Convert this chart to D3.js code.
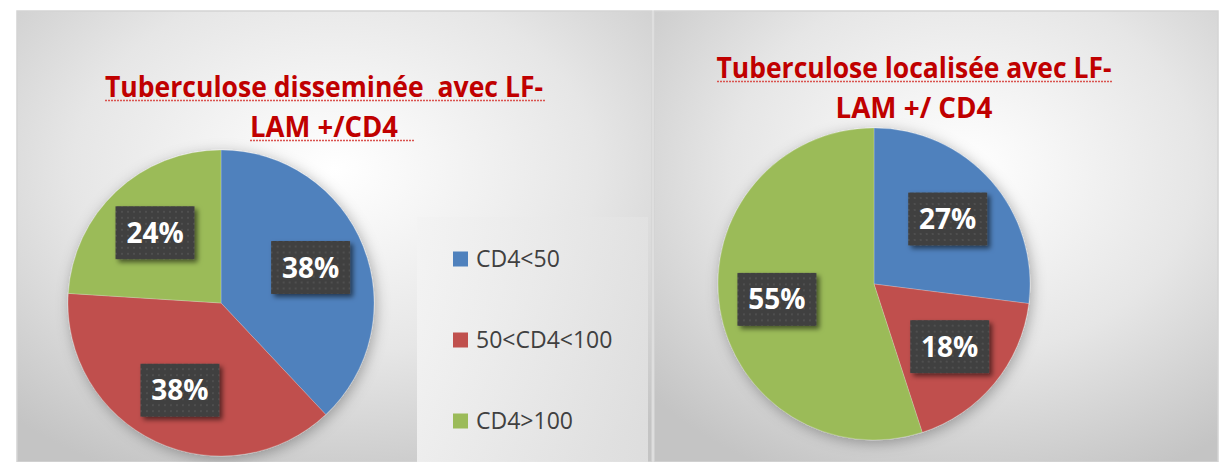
<!DOCTYPE html>
<html>
<head>
<meta charset="utf-8">
<script src="https://cdn.jsdelivr.net/npm/d3@7"></script>
<style>
  body { margin: 0; background: #fff; }
  svg { display: block; }
</style>
</head>
<body>
<script>
var categories = ["CD4<50", "50<CD4<100", "CD4>100"];
var colors = ["#4f81bd", "#c0504d", "#9bbb59"];

var dissemineeValues = [38, 38, 24];
var localiseeValues = [27, 18, 55];

var dissemineeTitle = ["Tuberculose disseminée  avec LF-", "LAM +/CD4"];
var localiseeTitle = ["Tuberculose localisée avec LF-", "LAM +/ CD4"];

var width = 1232,
    height = 462;

var svg = d3.select("body").append("svg")
    .attr("width", width)
    .attr("height", height);

var defs = svg.append("defs");

// panel backgrounds
function radial(id, cx, cy) {
  var g = defs.append("radialGradient")
      .attr("id", id)
      .attr("cx", cx).attr("cy", cy).attr("r", "0.75");
  g.append("stop").attr("offset", "0").attr("stop-color", "#ffffff");
  g.append("stop").attr("offset", "0.55").attr("stop-color", "#e6e6e6");
  g.append("stop").attr("offset", "1").attr("stop-color", "#c4c4c4");
}
radial("bgLeft", "0.5", "0.35");
radial("bgRight", "0.55", "0.35");

var lg = defs.append("linearGradient").attr("id", "legendBg")
    .attr("x1", 0).attr("x2", 1).attr("y1", 0).attr("y2", 0);
lg.append("stop").attr("offset", "0").attr("stop-color", "#f3f3f3");
lg.append("stop").attr("offset", "1").attr("stop-color", "#e2e2e2");

var pat = defs.append("pattern").attr("id", "dots")
    .attr("width", 6).attr("height", 6)
    .attr("patternUnits", "userSpaceOnUse");
pat.append("rect").attr("width", 6).attr("height", 6).attr("fill", "#3f3f3f");
pat.append("circle").attr("cx", 3).attr("cy", 3).attr("r", 0.9).attr("fill", "#575757");

var pieShadow = defs.append("filter").attr("id", "pieShadow")
    .attr("x", "-20%").attr("y", "-20%").attr("width", "140%").attr("height", "140%");
pieShadow.append("feDropShadow")
    .attr("dx", 2).attr("dy", 3).attr("stdDeviation", 7)
    .attr("flood-color", "#000").attr("flood-opacity", 0.3);

var boxShadow = defs.append("filter").attr("id", "boxShadow")
    .attr("x", "-20%").attr("y", "-20%").attr("width", "150%").attr("height", "150%");
boxShadow.append("feDropShadow")
    .attr("dx", 3).attr("dy", 3).attr("stdDeviation", 2.5)
    .attr("flood-color", "#000").attr("flood-opacity", 0.55);

var panels = [
  {x: 17, y: 11, w: 635, h: 451, fill: "url(#bgLeft)"},
  {x: 654, y: 11, w: 564, h: 451, fill: "url(#bgRight)"}
];

svg.selectAll("rect.panel")
    .data(panels)
  .enter().append("rect")
    .attr("class", "panel")
    .attr("x", function(d) { return d.x; })
    .attr("y", function(d) { return d.y; })
    .attr("width", function(d) { return d.w; })
    .attr("height", function(d) { return d.h; })
    .attr("fill", function(d) { return d.fill; })
    .attr("stroke", "#d4d4d4")
    .attr("stroke-width", 1.5);

// legend (left panel only)
var legend = svg.append("g");
legend.append("rect")
    .attr("x", 417).attr("y", 217)
    .attr("width", 231).attr("height", 245)
    .attr("fill", "url(#legendBg)")
    .attr("opacity", 0.85);

var legendY = d3.scalePoint()
    .domain(categories)
    .range([259, 421]);

var item = legend.selectAll("g.item")
    .data(categories)
  .enter().append("g")
    .attr("class", "item")
    .attr("transform", function(d) { return "translate(453," + legendY(d) + ")"; });

item.append("rect")
    .attr("x", 0).attr("y", -7.5)
    .attr("width", 15).attr("height", 15)
    .attr("fill", function(d, i) { return colors[i]; });

item.append("text")
    .attr("x", 23)
    .attr("y", 8)
    .attr("font-family", "'Open Sans', sans-serif")
    .attr("font-size", 23)
    .attr("fill", "#404040")
    .text(function(d) { return d; });

// titles
function title(lines, cx, y0, widths, underline) {
  var g = svg.append("g");
  lines.forEach(function(line, i) {
    var y = y0 + i * 40;
    g.append("text")
        .attr("x", cx)
        .attr("y", y)
        .attr("text-anchor", "middle")
        .attr("font-family", "'Open Sans', sans-serif")
        .attr("font-weight", "bold")
        .attr("font-size", 29)
        .attr("fill", "#c00000")
        .attr("textLength", widths[i])
        .attr("lengthAdjust", "spacingAndGlyphs")
        .style("white-space", "pre")
        .text(line);
    if (underline[i]) {
      g.append("line")
          .attr("x1", underline[i][0]).attr("x2", underline[i][1])
          .attr("y1", y + 3.5).attr("y2", y + 3.5)
          .attr("stroke", "#d9534f")
          .attr("stroke-width", 1.5)
          .attr("stroke-dasharray", "2,1");
    }
  });
}

title(dissemineeTitle, 324, 97, [438, 148], [[105, 545], [250, 415]]);
title(localiseeTitle, 914, 78, [395, 157], [[717, 1112], null]);

// pies
var pie = d3.pie().sort(null).value(function(d) { return d; });
var fmt = function(v, total) { return Math.round(v / total * 100) + "%"; };

function drawPie(values, cx, cy, r) {
  var total = d3.sum(values);
  var arcs = pie(values);
  var arc = d3.arc().innerRadius(0).outerRadius(r);
  var labelArc = d3.arc().innerRadius(r * 0.63).outerRadius(r * 0.63);

  var g = svg.append("g")
      .attr("transform", "translate(" + cx + "," + cy + ")");

  g.append("g")
      .attr("filter", "url(#pieShadow)")
    .selectAll("path")
      .data(arcs)
    .enter().append("path")
      .attr("d", arc)
      .attr("fill", function(d, i) { return colors[i]; })
      .attr("stroke", "#ffffff")
      .attr("stroke-opacity", 0.35)
      .attr("stroke-width", 0.6);

  var lab = g.selectAll("g.label")
      .data(arcs)
    .enter().append("g")
      .attr("class", "label")
      .attr("transform", function(d) { return "translate(" + labelArc.centroid(d) + ")"; });

  lab.append("rect")
      .attr("x", -39.5).attr("y", -26.5)
      .attr("width", 79).attr("height", 53)
      .attr("fill", "url(#dots)")
      .attr("filter", "url(#boxShadow)");

  lab.append("text")
      .attr("text-anchor", "middle")
      .attr("y", 10)
      .attr("font-family", "'Open Sans', sans-serif")
      .attr("font-weight", "bold")
      .attr("font-size", 28)
      .attr("fill", "#ffffff")
      .text(function(d) { return fmt(d.value, total); });
}

drawPie(dissemineeValues, 221, 303, 153);
drawPie(localiseeValues, 874, 284, 156);
</script>
</body>
</html>
